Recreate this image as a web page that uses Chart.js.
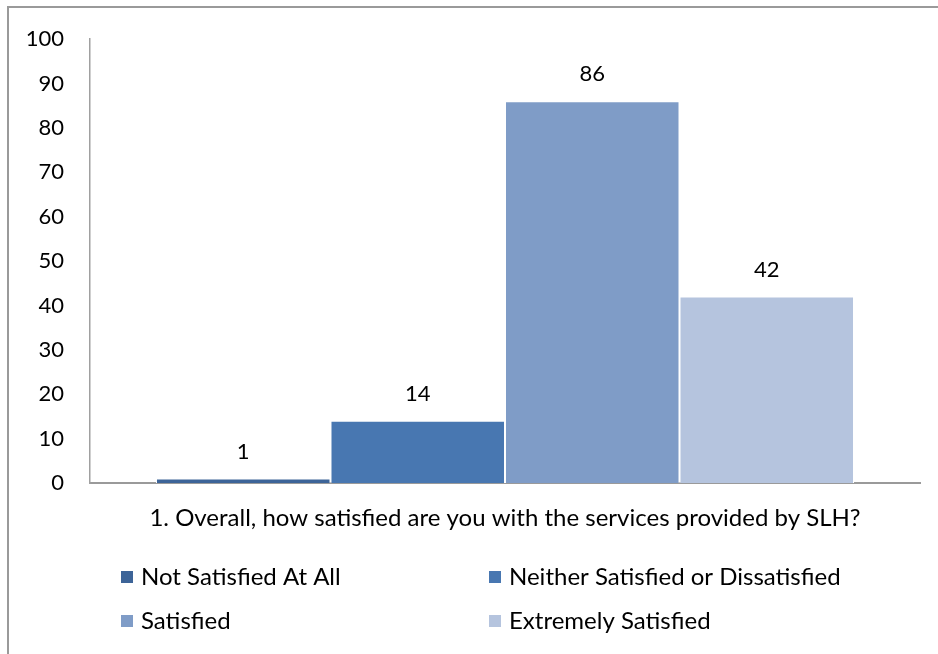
<html>
  <head>
    <script src="https://cdn.jsdelivr.net/npm/chart.js@4/dist/chart.umd.min.js"></script>
    <style>
      body,
      html {
        margin: 0;
        padding: 0;
        background: #fff;
        overflow: hidden;
      }
      .frame {
        position: absolute;
        left: 7px;
        top: 6px;
        width: 1000px;
        height: 700px;
        border-left: 2px solid #9a9a9a;
        border-top: 2px solid #9a9a9a;
      }
      #satChart {
        position: absolute;
        left: 0;
        top: 0;
      }
    </style>
  </head>
  <body>
    <div class="frame"></div>
    <canvas id="satChart" width="938" height="654"></canvas>

    <script>
      const categories = ["1. Overall, how satisfied are you with the services provided by SLH?"];
      const seriesNames = [
        "Not Satisfied At All",
        "Neither Satisfied or Dissatisfied",
        "Satisfied",
        "Extremely Satisfied",
      ];
      const seriesValues = [[1], [14], [86], [42]];
      const seriesColors = ["#3d6498", "#4877b1", "#7f9cc7", "#b5c4de"];
      const yTicks = [0, 10, 20, 30, 40, 50, 60, 70, 80, 90, 100];

      const FONT = "Lato, 'Open Sans', sans-serif";

      // value labels above each bar
      const valueLabels = {
        id: "valueLabels",
        afterDatasetsDraw(chart) {
          const ctx = chart.ctx;
          ctx.save();
          ctx.font = "22px " + FONT;
          ctx.fillStyle = "#000";
          ctx.textAlign = "center";
          ctx.textBaseline = "middle";
          chart.data.datasets.forEach((ds, i) => {
            chart.getDatasetMeta(i).data.forEach((bar, j) => {
              ctx.fillText(ds.data[j], bar.x, bar.y - 27);
            });
          });
          ctx.restore();
        },
      };

      // two column legend like the office chart
      const gridLegend = {
        id: "gridLegend",
        afterDraw(chart) {
          const ctx = chart.ctx;
          const cols = [121, 489];
          const rows = [577, 621];
          ctx.save();
          ctx.font = "24px " + FONT;
          ctx.textBaseline = "middle";
          ctx.textAlign = "left";
          chart.data.datasets.forEach((ds, i) => {
            const x = cols[i % 2];
            const y = rows[Math.floor(i / 2)];
            ctx.fillStyle = ds.backgroundColor;
            ctx.fillRect(x, y - 6, 12, 12);
            ctx.fillStyle = "#000";
            ctx.fillText(ds.label, x + 20, y);
          });
          ctx.restore();
        },
      };

      const ctx = document.getElementById("satChart").getContext("2d");
      const satChart = new Chart(ctx, {
        type: "bar",
        data: {
          labels: categories,
          datasets: seriesNames.map((name, i) => ({
            label: name,
            data: seriesValues[i],
            backgroundColor: seriesColors[i],
            borderColor: "#ffffff",
            borderWidth: 1,
          })),
        },
        options: {
          responsive: false,
          animation: false,
          categoryPercentage: 0.841,
          barPercentage: 1,
          layout: {
            padding: { left: 0, top: 38, right: 18, bottom: 111 },
          },
          plugins: {
            legend: { display: false },
            tooltip: { enabled: false },
          },
          scales: {
            x: {
              grid: { display: false, drawTicks: false },
              border: { color: "#9a9a9a", width: 2 },
              ticks: {
                color: "#000",
                font: { family: FONT, size: 24 },
                padding: 21,
                maxRotation: 0,
              },
              afterFit(scale) {
                scale.height = 60;
              },
            },
            y: {
              min: 0,
              max: 100,
              grid: { display: false, drawTicks: false },
              border: { color: "#a0a0a0", width: 1.5 },
              afterBuildTicks(scale) {
                scale.ticks = yTicks.map((v) => ({ value: v }));
              },
              ticks: {
                color: "#000",
                font: { family: FONT, size: 22 },
                padding: 26,
              },
              afterFit(scale) {
                scale.width = 90;
              },
            },
          },
        },
        plugins: [valueLabels, gridLegend],
      });
    </script>
  </body>
</html>
